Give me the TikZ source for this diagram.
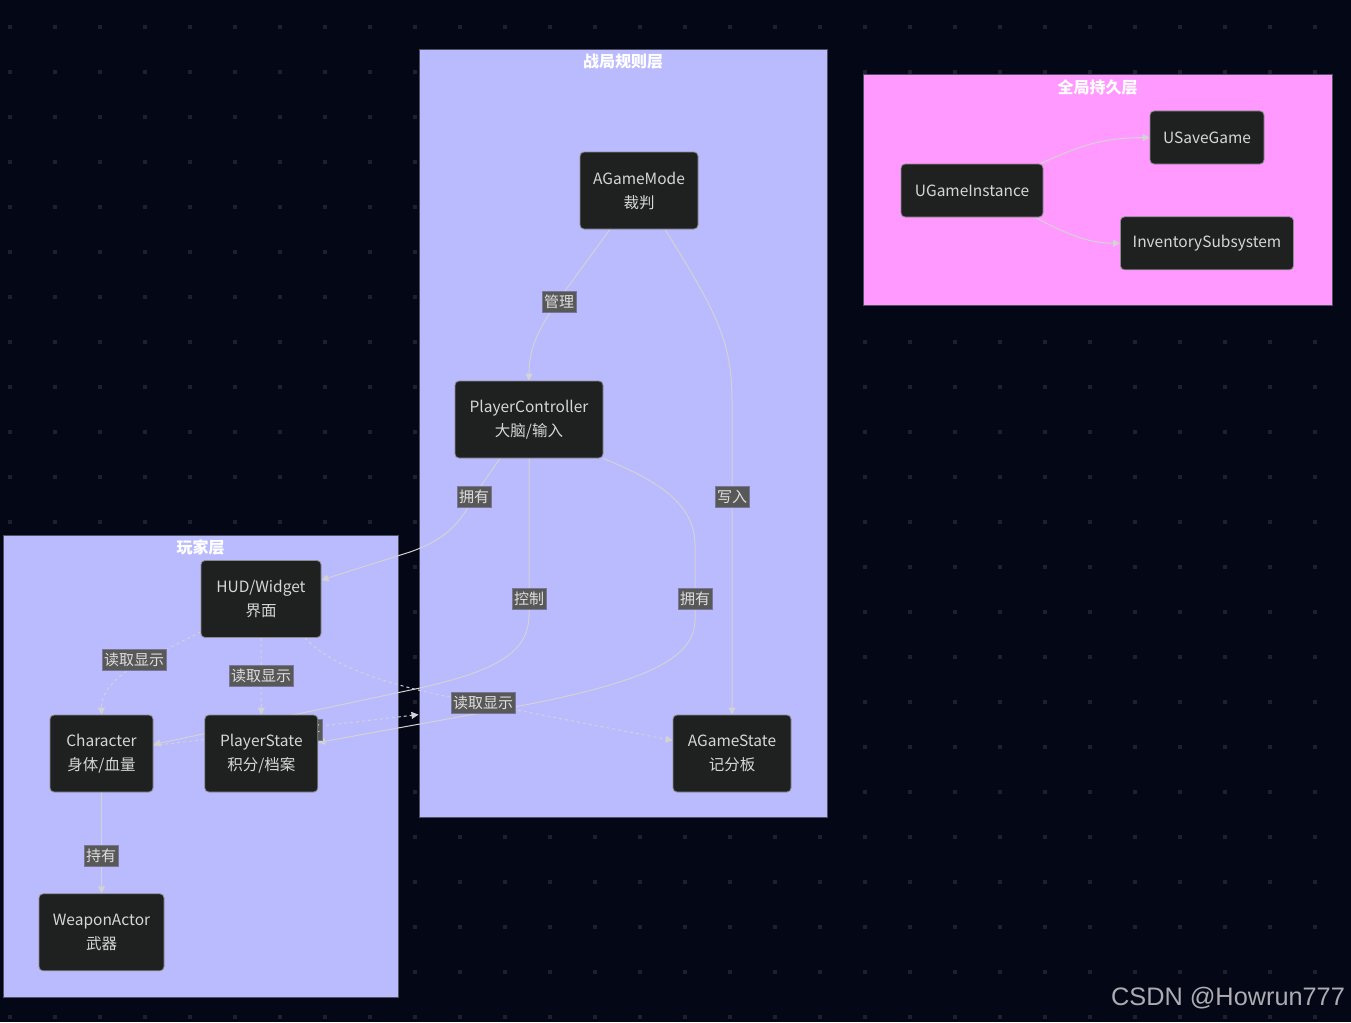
\documentclass[tikz,border=0pt]{standalone}
\usepackage{fontspec}
\setmainfont{Noto Sans CJK SC}
\newfontfamily\wmfont{Liberation Sans}
\usepackage{xcolor}
\usetikzlibrary{arrows.meta, positioning, backgrounds}
\pgfdeclarelayer{edgelayer}
\pgfsetlayers{background,edgelayer,main}
\definecolor{ueback}{RGB}{4, 7, 22}
\definecolor{uedot}{RGB}{30, 32, 44}
\definecolor{uelavender}{RGB}{186, 186, 254}
\definecolor{uepink}{RGB}{255, 153, 255}
\definecolor{uelayerline}{RGB}{80, 80, 96}
\definecolor{uenode}{RGB}{31, 32, 32}
\definecolor{uenodeline}{RGB}{140, 140, 140}
\definecolor{uetext}{RGB}{214, 214, 214}
\definecolor{ueedge}{RGB}{211, 211, 211}
\definecolor{uelabel}{RGB}{88, 88, 88}
\definecolor{uelabelline}{RGB}{120, 120, 150}
\definecolor{uelabeltext}{RGB}{222, 222, 222}
\definecolor{uewm}{RGB}{172, 172, 178}

\begin{document}
\begin{tikzpicture}[
  x=1pt, y=-1pt,
  actor/.style={
    rectangle, rounded corners=4pt,
    draw=uenodeline, line width=0.8pt,
    fill=uenode, text=uetext,
    align=center, inner sep=0pt,
    font=\fontsize{15.5}{24}\selectfont,
    minimum height=77pt
  },
  smallactor/.style={actor, minimum height=53pt},
  layerbox/.style={rectangle, draw=uelayerline, line width=1pt, inner sep=0pt},
  layertitle/.style={text=white, font=\fontsize{16}{18}\selectfont\bfseries, inner sep=0pt},
  link/.style={draw=ueedge, line width=1pt, -{Triangle[length=7pt, width=7pt]}},
  readlink/.style={link, dash pattern=on 3pt off 3pt},
  elabel/.style={
    fill=uelabel, draw=uelabelline, line width=0.6pt,
    text=uelabeltext, font=\fontsize{15}{17}\selectfont,
    inner xsep=2pt, inner ysep=1pt, minimum height=21pt
  }
]
\useasboundingbox (0,0) rectangle (1351,1022);

\begin{pgfonlayer}{background}
\fill[ueback] (0,0) rectangle (1351,1022);
\foreach \i in {0,...,29}
  \foreach \j in {0,...,22}
    \fill[uedot] (8+45*\i, 25+45*\j) rectangle ++(4,4);

\node[layerbox, fill=uelavender, minimum width=408pt, minimum height=767pt] (rulelayer) at (623,433.5) {};
\node[layerbox, fill=uepink, minimum width=469pt, minimum height=230pt] (keeplayer) at (1097.5,190) {};
\node[layerbox, fill=uelavender, minimum width=395pt, minimum height=462pt] (playerlayer) at (200.5,766) {};
\end{pgfonlayer}

\node[layertitle] (ruletitle) at ([yshift=-12.5pt]rulelayer.north) {战局规则层};
\node[layertitle] (keeptitle) at ([yshift=-12.5pt]keeplayer.north) {全局持久层};
\node[layertitle] (playertitle) at ([yshift=-12.5pt]playerlayer.north) {玩家层};

% rule layer
\node[actor, minimum width=118pt] (agm) at (639,190.5) {AGameMode\\裁判};
\node[actor, minimum width=148pt] (pc) at (529,419.5) {PlayerController\\大脑/输入};
\node[actor, minimum width=118pt] (ags) at (732,753.5) {AGameState\\记分板};

% player layer
\node[actor, minimum width=120pt] (hud) at (261,599) {HUD/Widget\\界面};
\node[actor, minimum width=103pt] (chr) at (101.5,753.5) {Character\\身体/血量};
\node[actor, minimum width=113pt, right=51pt of chr] (ps) {PlayerState\\积分/档案};
\node[actor, minimum width=125pt, below=101pt of chr] (wpn) {WeaponActor\\武器};

% persistent layer
\node[smallactor, minimum width=142pt] (gi) at (972,190.5) {UGameInstance};
\node[smallactor, minimum width=114pt] (usave) at (1207,137.5) {USaveGame};
\node[smallactor, minimum width=173pt, below=52pt of usave] (inv) {InventorySubsystem};

\begin{pgfonlayer}{edgelayer}
\draw[link] ([xshift=-29pt]agm.south) -- (570,284) .. controls (540,325) and (529,345) .. (pc.north);
\draw[link] ([xshift=26pt]agm.south) .. controls (715,310) and (732,340) .. (732,400) -- (ags.north);
\draw[link] ([xshift=-29pt]pc.south) -- (478,490) .. controls (462,520) and (450,538) .. (410,552) -- ([yshift=19pt]hud.east);
\draw[link] (pc.south) -- (529,615) .. controls (529,655) and (490,672) .. (420,688) -- ([yshift=9pt]chr.east);
\draw[link] (pc.south east) .. controls (650,478) and (695,500) .. (695,545) -- (695,620) .. controls (695,660) and (640,682) .. (530,704) -- ([yshift=11pt]ps.east);
\draw[readlink] ([yshift=-33pt]hud.west) -- (165,650) .. controls (120,670) and (101,690) .. (chr.north);
\draw[readlink] (hud.south) -- (ps.north);
\draw[readlink] ([xshift=44pt]hud.south) .. controls (330,665) and (380,682) .. (440,695) -- ([yshift=13pt]ags.west);
\draw[readlink] ([yshift=8pt]chr.east) -- (rulelayer.west |- ps.north);
\draw[link] (chr.south) -- (wpn.north);
\draw[link] ([xshift=-3pt]gi.north east) .. controls (1080,146) and (1100,138) .. (usave.west);
\draw[link] ([xshift=-8pt]gi.south east) .. controls (1070,236) and (1090,243) .. (inv.west);

\node[elabel] (lmanage) at (559,302) {管理};
\node[elabel] (lwrite) at (732,497) {写入};
\node[elabel] (lownhud) at (474,497) {拥有};
\node[elabel] (lcontrol) at (529,599) {控制};
\node[elabel] (lownps) at (695,599) {拥有};
\node[elabel] (lreadchr) at (134,660) {读取显示};
\node[elabel] (lreadps) at (261,676) {读取显示};
\node[elabel] (lreadgs) at (483,703) {读取显示};
\node[elabel] (lsave) at (312.5,730) {存};
\node[elabel] (lhold) at (101,856) {持有};
\end{pgfonlayer}

\node[font=\wmfont\fontsize{25.3}{28}\selectfont, text=uewm, inner sep=0pt] (mark) at (1228,998) {CSDN @Howrun777};

\end{tikzpicture}
\end{document}
